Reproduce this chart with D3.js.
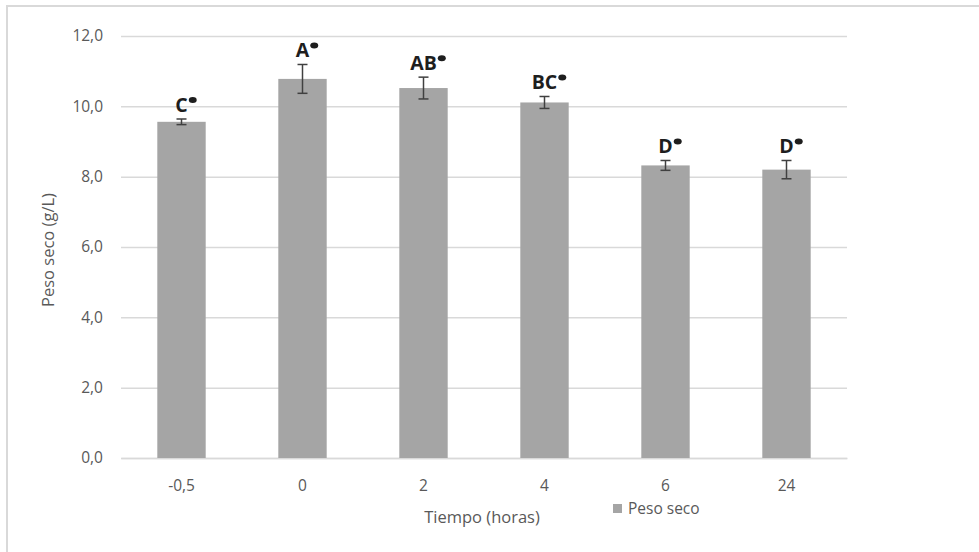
<!DOCTYPE html>
<html>
<head>
<meta charset="utf-8">
<script src="https://cdn.jsdelivr.net/npm/d3@7"></script>
<style>
  html, body { margin: 0; padding: 0; background: #fff; }
  svg { display: block; }
  text { font-family: "Open Sans", "Noto Sans", sans-serif; }
</style>
</head>
<body>
<svg id="chart" width="979" height="552"></svg>
<script>
// Dry weight over time (mean ± SD) with significance letters
const categories = ["-0,5", "0", "2", "4", "6", "24"];
const means      = [9.56, 10.78, 10.52, 10.11, 8.32, 8.20];
const errors     = [0.08, 0.41, 0.31, 0.17, 0.14, 0.26];
const letters    = ["C", "A", "AB", "BC", "D", "D"];
const yTicks     = [0, 2, 4, 6, 8, 10, 12];
const seriesName = "Peso seco";
const xTitle     = "Tiempo (horas)";
const yTitle     = "Peso seco (g/L)";

const data = categories.map((c, i) => ({ cat: c, mean: means[i], err: errors[i], letter: letters[i] }));

const svg = d3.select("#chart");
const W = 979, H = 552;
const plot = { left: 121, right: 847, top: 36, bottom: 458 };

const textGray = "#595959";
const gridColor = "#d9d9d9";
const barColor = "#a5a5a5";

// Chart frame
svg.append("path")
  .attr("d", `M7,${H} L7,6 L${W},6`)
  .attr("fill", "none")
  .attr("stroke", gridColor)
  .attr("stroke-width", 2);

const x = d3.scaleBand()
  .domain(categories)
  .range([plot.left, plot.right])
  .paddingInner(0.6)
  .paddingOuter(0.3);

const y = d3.scaleLinear()
  .domain([0, 12])
  .range([plot.bottom, plot.top]);

const fmt = v => d3.format(".1f")(v).replace(".", ",");

// Horizontal gridlines and y tick labels
const yAxis = d3.axisLeft(y)
  .tickValues(yTicks)
  .tickSize(-(plot.right - plot.left))
  .tickPadding(18)
  .tickFormat(fmt);

const gy = svg.append("g")
  .attr("transform", `translate(${plot.left},0)`)
  .call(yAxis);
gy.select(".domain").remove();
gy.selectAll(".tick line").attr("stroke", gridColor).attr("stroke-width", 1.5);
gy.selectAll(".tick text")
  .attr("fill", textGray)
  .attr("font-size", 15.5)
  .attr("font-family", "'Open Sans', sans-serif");

// Category axis
const xAxis = d3.axisBottom(x).tickSize(0).tickPadding(22);
const gx = svg.append("g")
  .attr("transform", `translate(0,${plot.bottom})`)
  .call(xAxis);
gx.select(".domain").attr("stroke", gridColor).attr("stroke-width", 1.5);
gx.selectAll(".tick text")
  .attr("fill", textGray)
  .attr("font-size", 15.5)
  .attr("font-family", "'Open Sans', sans-serif");

// Bars
svg.append("g").selectAll("rect")
  .data(data)
  .join("rect")
  .attr("x", d => x(d.cat))
  .attr("y", d => y(d.mean))
  .attr("width", x.bandwidth())
  .attr("height", d => y(0) - y(d.mean))
  .attr("fill", barColor);

// Error bars
const capHalf = 5;
const eb = svg.append("g")
  .attr("stroke", "#404040")
  .attr("stroke-width", 1.5)
  .attr("fill", "none");
data.forEach(d => {
  const cx = x(d.cat) + x.bandwidth() / 2;
  const y1 = y(d.mean + d.err), y0 = y(d.mean - d.err);
  eb.append("line").attr("x1", cx).attr("x2", cx).attr("y1", y1).attr("y2", y0);
  eb.append("line").attr("x1", cx - capHalf).attr("x2", cx + capHalf).attr("y1", y1).attr("y2", y1);
  eb.append("line").attr("x1", cx - capHalf).attr("x2", cx + capHalf).attr("y1", y0).attr("y2", y0);
});

// Significance letters with a raised marker
const lab = svg.append("g");
data.forEach(d => {
  const cx = x(d.cat) + x.bandwidth() / 2;
  const by = y(d.mean + d.err) - 7;
  const t = lab.append("text")
    .attr("x", cx)
    .attr("y", by)
    .attr("text-anchor", "middle")
    .attr("font-size", 19.5)
    .attr("font-weight", "bold")
    .attr("fill", "#1e1e1e")
    .text(d.letter);
  const w = t.node().getComputedTextLength();
  lab.append("ellipse")
    .attr("cx", cx + w / 2 + 5)
    .attr("cy", by - 12)
    .attr("rx", 4)
    .attr("ry", 3)
    .attr("fill", "#1e1e1e");
});

// Axis titles
svg.append("text")
  .attr("x", (plot.left + plot.right) / 2 - 2)
  .attr("y", 523)
  .attr("text-anchor", "middle")
  .attr("font-size", 16.5)
  .attr("fill", textGray)
  .text(xTitle);

svg.append("text")
  .attr("transform", `translate(54,250) rotate(-90)`)
  .attr("text-anchor", "middle")
  .attr("font-size", 16.5)
  .attr("fill", textGray)
  .text(yTitle);

// Legend
const lg = svg.append("g").attr("transform", "translate(613,504)");
lg.append("rect").attr("x", 0).attr("y", 0).attr("width", 9).attr("height", 9).attr("fill", barColor);
lg.append("text")
  .attr("x", 15)
  .attr("y", 10)
  .attr("font-size", 15.5)
  .attr("fill", textGray)
  .text(seriesName);
</script>
</body>
</html>
